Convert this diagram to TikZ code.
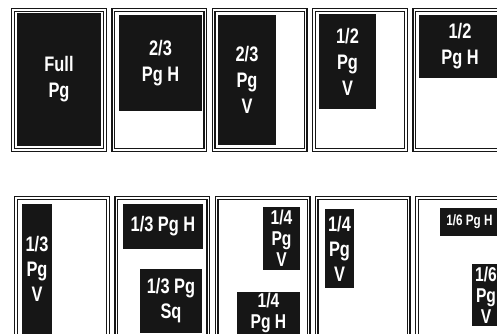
\documentclass[tikz,border=0pt]{standalone}
\usepackage{fontspec}
\newfontfamily\adfont[FakeStretch=0.78]{Liberation Sans}
\usetikzlibrary{positioning}
\definecolor{ink}{HTML}{161616}

\tikzset{
  pageframe/.style={draw=ink,double=white,double distance=1.2pt,line width=1.4pt,
    minimum width=92pt,minimum height=140pt,inner sep=0pt},
  adblock/.style={fill=ink,text=white,inner sep=0pt,align=center,
    font=\adfont\bfseries\fontsize{21}{26}\selectfont},
  tightblock/.style={adblock,font=\adfont\bfseries\fontsize{20}{21}\selectfont},
  smallblock/.style={adblock,font=\adfont\bfseries\fontsize{15}{18}\selectfont}
}

\begin{document}
\begin{tikzpicture}[x=1pt,y=-1pt]
\useasboundingbox (0,0) rectangle (497,333);
\clip (0,0) rectangle (497,333);
% page frames, two rows
\foreach \i in {1,...,5}{
  \node[pageframe] (p\i) at ({59+100.3*(\i-1)},80) {};
  \node[pageframe] (q\i) at ({62+100.25*(\i-1)},268) {};
}
% top row
\node[adblock,minimum width=84pt,minimum height=133pt] (fullpg) at (59,79.5) {Full\\Pg};
\node[adblock,minimum width=83pt,minimum height=96pt] (twothirdsh) at (160.5,63) {2/3\\Pg H};
\node[adblock,minimum width=58pt,minimum height=130pt] (twothirdsv) at (247,80) {2/3\\Pg\\V};
\node[adblock,minimum width=57pt,minimum height=95pt] (halfv) at (347.5,61.5) {1/2\\Pg\\V};
\node[adblock,minimum width=82pt,minimum height=63pt] (halfh) at (460,46.5) {1/2\\Pg H};
% bottom row
\node[adblock,font=\adfont\bfseries\fontsize{21}{25}\selectfont,minimum width=30pt,minimum height=130pt] (thirdv) at (37,269) {1/3\\Pg\\V};
\node[adblock,minimum width=80pt,minimum height=45pt] (thirdh) at (163,226.5) {1/3 Pg H};
\node[adblock,font=\adfont\bfseries\fontsize{21}{25}\selectfont,minimum width=62pt,minimum height=64pt] (thirdsq) at (171,301) {1/3 Pg\\Sq};
\node[tightblock,minimum width=37pt,minimum height=63pt] (quarterv) at (281.5,238.5) {1/4\\Pg\\V};
\node[tightblock,minimum width=63pt,minimum height=42pt] (quarterh) at (268.5,313) {1/4\\Pg H};
\node[adblock,font=\adfont\bfseries\fontsize{21}{25}\selectfont,minimum width=29pt,minimum height=79pt] (quarterv2) at (339.5,248.5) {1/4\\Pg\\V};
\node[smallblock,minimum width=59pt,minimum height=28pt] (sixthh) at (469.5,222) {1/6 Pg H};
\node[tightblock,minimum width=28pt,minimum height=62pt] (sixthv) at (486,295) {1/6\\Pg\\V};
\end{tikzpicture}
\end{document}
